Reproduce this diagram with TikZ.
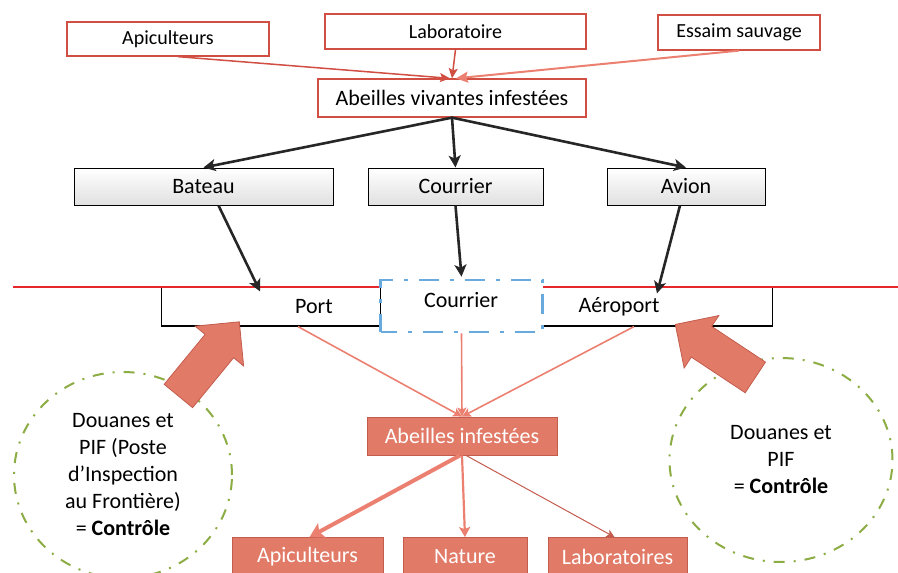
\documentclass[tikz,border=0pt]{standalone}
\usepackage{fontspec}
\setmainfont{Carlito}
\usetikzlibrary{arrows.meta,shapes.arrows,shapes.geometric}

\definecolor{boxred}{RGB}{208,78,66}
\definecolor{lightred}{RGB}{236,128,112}
\definecolor{salmon}{RGB}{225,122,103}
\definecolor{salmonedge}{RGB}{196,92,78}
\definecolor{linered}{RGB}{230,40,45}
\definecolor{dashblue}{RGB}{104,170,222}
\definecolor{olivegreen}{RGB}{140,172,68}
\definecolor{darkline}{RGB}{38,38,38}

\tikzset{
  redbox/.style={draw=boxred, line width=1.3pt, fill=white, inner sep=0pt,
    font=\fontsize{20}{23}\selectfont},
  greybox/.style={draw=black, line width=1pt, top color=white, bottom color=black!12,
    inner sep=0pt, minimum height=37pt, font=\fontsize{22}{26}\selectfont},
  gatebox/.style={draw=black, line width=1.2pt, fill=white, inner sep=0pt,
    minimum height=39pt},
  gatetext/.style={font=\fontsize{22}{26}\selectfont, inner sep=0pt},
  mailbox/.style={draw=dashblue, line width=2.6pt, fill=white, inner sep=0pt,
    dash pattern=on 20pt off 11pt on 4pt off 11pt, dash phase=4pt},
  salmonbox/.style={fill=salmon, draw=salmonedge, line width=0.8pt, text=white,
    inner sep=0pt, minimum height=38pt, font=\fontsize{22}{26}\selectfont},
  controlring/.style={ellipse, draw=olivegreen, line width=2pt, inner sep=0pt,
    dash pattern=on 11pt off 9pt on 2pt off 9pt, align=center,
    font=\fontsize{22}{27}\selectfont},
  blockarrow/.style={single arrow, fill=salmon, draw=salmonedge, line width=0.8pt,
    inner xsep=0pt, inner ysep=18pt, single arrow head extend=13pt},
  blackarrow/.style={draw=darkline, line width=2.6pt,
    -{Stealth[length=12pt,width=12pt,inset=3pt]}},
  pinkarrow/.style={draw=lightred, line width=1.6pt,
    -{Stealth[length=9pt,width=9pt,inset=2pt]}},
}

\begin{document}
\begin{tikzpicture}[x=1pt,y=-1pt]
\useasboundingbox (0,0) rectangle (898,573);

% sources
\node[redbox, minimum width=202pt, minimum height=34pt] (srcapi) at (168,39) {Apiculteurs};
\node[redbox, minimum width=261pt, minimum height=35pt] (srclab) at (455.5,31.5) {Laboratoire};
\node[redbox, minimum width=162pt, minimum height=35pt] (srcwild) at (739,32.5) {Essaim sauvage};
\node[redbox, minimum width=268pt, minimum height=38pt, font=\fontsize{22}{26}\selectfont]
  (live) at (452,98) {Abeilles vivantes infestées};

\draw[draw=boxred, line width=1.5pt, -{Stealth[length=10pt,width=9pt,inset=2pt]}]
  ([xshift=10pt]srcapi.south) -- ([xshift=-2pt]live.north);
\draw[draw=boxred, line width=1.5pt, -{Stealth[length=10pt,width=9pt,inset=2pt]}]
  (srclab.south) -- (live.north);
\draw[draw=lightred, line width=2pt, -{Stealth[length=12pt,width=11pt,inset=2pt]}]
  (srcwild.south) -- ([xshift=4pt]live.north);

% transport modes
\node[greybox, minimum width=259pt] (boat) at (203.5,186.5) {Bateau};
\node[greybox, minimum width=175pt] (post) at (455.5,186.5) {Courrier};
\node[greybox, minimum width=158pt] (plane) at (686,186.5) {Avion};

\draw[blackarrow] (live.south) -- (boat.north);
\draw[blackarrow] (live.south) -- (post.north);
\draw[blackarrow] (live.south) -- (plane.north);

% border crossing points
\node[gatebox, minimum width=219pt] (port) at (271,306.5) {};
\node[gatebox, minimum width=231pt] (airport) at (657,306.5) {};
\draw[draw=linered, line width=2.2pt] (13,287) -- (898,287);
\node[mailbox, minimum width=162pt, minimum height=52pt] (mail) at (461.5,306) {};
\node[gatetext] (porttxt) at (314,307) {Port};
\node[gatetext] (airporttxt) at (619,307) {Aéroport};
\node[gatetext] (mailtxt) at (461,300) {Courrier};

\draw[blackarrow] ([xshift=15pt]boat.south) -- ([xshift=-11pt,yshift=-5pt]port.north);
\draw[blackarrow] (post.south) -- ([yshift=2pt]mail.north);
\draw[blackarrow] ([xshift=-6pt]plane.south) -- ([xshift=0pt,yshift=-7pt]airport.north);

% infested bees and destinations
\node[salmonbox, minimum width=190pt] (infested) at (462,436) {Abeilles infestées};
\node[salmonbox, minimum width=151pt] (dstapi) at (307.5,556.5) {Apiculteurs};
\node[salmonbox, minimum width=124pt] (dstnat) at (465,556.5) {Nature};
\node[salmonbox, minimum width=139pt] (dstlab) at (617.5,556.5) {Laboratoires};

\draw[pinkarrow] ([xshift=27pt]port.south) -- (infested.north);
\draw[pinkarrow] (mail.south) -- (infested.north);
\draw[pinkarrow] ([xshift=-23pt]airport.south) -- (infested.north);

\draw[draw=lightred, line width=4pt, -{Stealth[length=14pt,width=16pt,inset=3pt]}]
  ([xshift=-2pt]infested.south) -- ([xshift=2pt]dstapi.north);
\draw[draw=lightred, line width=2.2pt, -{Stealth[length=10pt,width=11pt,inset=2pt]}]
  (infested.south) -- (dstnat.north);
\draw[draw=salmonedge, line width=1pt, -{Stealth[length=8pt,width=8pt,inset=2pt]}]
  ([xshift=4pt]infested.south) -- ([xshift=-3pt]dstlab.north);

% customs controls
\node[controlring, minimum width=218pt, minimum height=206pt] (ctlleft) at (123,475)
  {Douanes et\\PIF (Poste\\d’Inspection\\au Frontière)\\= \textbf{Contrôle}};
\node[controlring, minimum width=223pt, minimum height=204pt] (ctlright) at (781,460)
  {Douanes et\\PIF\\= \textbf{Contrôle}};

\node[blockarrow, minimum height=96pt, rotate=50.6] (pushleft) at (203,366) {};
\node[blockarrow, minimum height=96pt, rotate=146.5] (pushright) at (723,356) {};
\end{tikzpicture}
\end{document}
